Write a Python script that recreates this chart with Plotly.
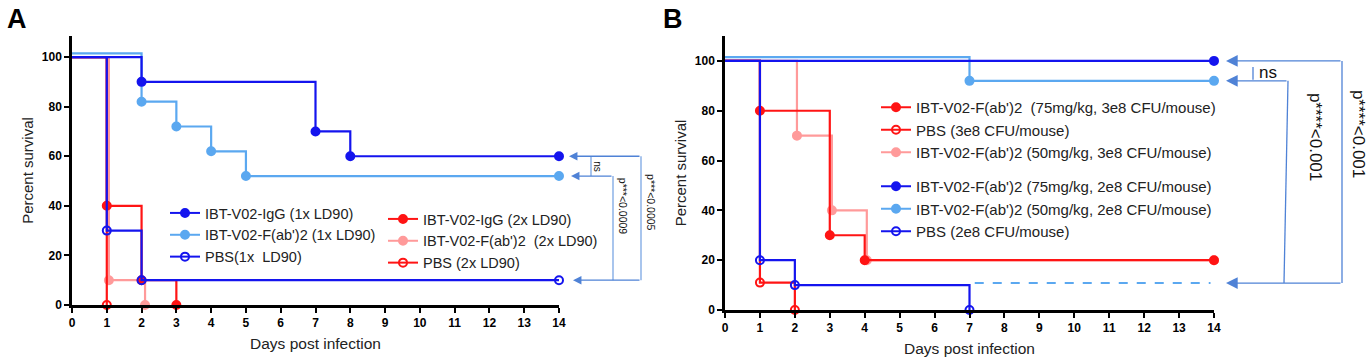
import plotly.graph_objects as go

W, H = 1368, 358
FONT = "Arial, Liberation Sans, sans-serif"

DARK_BLUE = "#1414ee"
LIGHT_BLUE = "#5ba8f0"
RED = "#ff1414"
PINK = "#ff9a9a"
ANN = "#4f82d6"
ANN_LINE = "#7aa6e4"

# ---------------- Panel A data ----------------
a_igg1_days = [0, 2, 7, 8, 14]
a_igg1_surv = [100, 90, 70, 60, 60]
a_fab1_days = [0, 2, 3, 4, 5, 14]
a_fab1_surv = [101.5, 82, 72, 62, 52, 52]
a_pbs1_days = [0, 1, 2, 14]
a_pbs1_surv = [100, 30, 10, 10]
a_igg2_days = [0, 1, 2, 3]
a_igg2_surv = [100, 40, 10, 0]
a_fab2_days = [0, 1.06, 2.1]
a_fab2_surv = [100, 10, 0]
a_pbs2_days = [0, 1]
a_pbs2_surv = [100, 0]

a_names = ["IBT-V02-IgG (1x LD90)", "IBT-V02-F(ab')2 (1x LD90)", "PBS(1x\u00a0 LD90)",
           "IBT-V02-IgG (2x LD90)", "IBT-V02-F(ab')2\u00a0 (2x LD90)", "PBS (2x LD90)"]

# ---------------- Panel B data ----------------
b_fab75_3e8_days = [0, 1, 3, 4, 14]
b_fab75_3e8_surv = [100, 80, 30, 20, 20]
b_pbs_3e8_days = [0, 1, 2]
b_pbs_3e8_surv = [100, 11, 0]
b_fab50_3e8_days = [0, 2.06, 3.06, 4.06, 14]
b_fab50_3e8_surv = [100, 70, 40, 20, 20]
b_fab75_2e8_days = [0, 14]
b_fab75_2e8_surv = [100, 100]
b_fab50_2e8_days = [0, 7, 14]
b_fab50_2e8_surv = [101.5, 92, 92]
b_pbs_2e8_days = [0, 1, 2, 7]
b_pbs_2e8_surv = [100, 20, 10, 0]

b_names = ["IBT-V02-F(ab')2\u00a0 (75mg/kg, 3e8 CFU/mouse)", "PBS (3e8 CFU/mouse)",
           "IBT-V02-F(ab')2 (50mg/kg, 3e8 CFU/mouse)",
           "IBT-V02-F(ab')2 (75mg/kg, 2e8 CFU/mouse)", "IBT-V02-F(ab')2 (50mg/kg, 2e8 CFU/mouse)",
           "PBS (2e8 CFU/mouse)"]

x_ticks = list(range(0, 15))
y_ticks = [0, 20, 40, 60, 80, 100]

fig = go.Figure()


def add_series(days, surv, color, open_marker, xa, ya, name, legend, rank, width=2.2):
    n = len(days)
    symbol = "circle-open" if open_marker else "circle"
    fig.add_trace(go.Scatter(
        x=days, y=surv, mode="lines+markers", line=dict(color=color, width=width, shape="hv"),
        marker=dict(symbol=symbol, size=8, color=color, opacity=[0] + [1] * (n - 1),
                    line=dict(color=color, width=2)),
        xaxis=xa, yaxis=ya, showlegend=False, cliponaxis=False, hoverinfo="skip"))
    fig.add_trace(go.Scatter(
        x=[None], y=[None], mode="lines+markers", name=name,
        line=dict(color=color, width=2),
        marker=dict(symbol=symbol, size=8, color=color, line=dict(color=color, width=2)),
        xaxis=xa, yaxis=ya, legend=legend, legendrank=rank, showlegend=True))


# Panel A (draw order: back to front)
add_series(a_fab2_days, a_fab2_surv, PINK, False, "x", "y", a_names[4], "legend2", 2)
add_series(a_fab1_days, a_fab1_surv, LIGHT_BLUE, False, "x", "y", a_names[1], "legend", 2)
add_series(a_pbs2_days, a_pbs2_surv, RED, True, "x", "y", a_names[5], "legend2", 3)
add_series(a_igg2_days, a_igg2_surv, RED, False, "x", "y", a_names[3], "legend2", 1)
add_series(a_pbs1_days, a_pbs1_surv, DARK_BLUE, True, "x", "y", a_names[2], "legend", 3)
add_series(a_igg1_days, a_igg1_surv, DARK_BLUE, False, "x", "y", a_names[0], "legend", 1)

# Panel B
add_series(b_fab50_3e8_days, b_fab50_3e8_surv, PINK, False, "x2", "y2", b_names[2], "legend3", 3)
add_series(b_pbs_3e8_days, b_pbs_3e8_surv, RED, True, "x2", "y2", b_names[1], "legend3", 2)
add_series(b_fab75_3e8_days, b_fab75_3e8_surv, RED, False, "x2", "y2", b_names[0], "legend3", 1)
add_series(b_fab50_2e8_days, b_fab50_2e8_surv, LIGHT_BLUE, False, "x2", "y2", b_names[4], "legend4", 2)
add_series(b_pbs_2e8_days, b_pbs_2e8_surv, DARK_BLUE, True, "x2", "y2", b_names[5], "legend4", 3)
add_series(b_fab75_2e8_days, b_fab75_2e8_surv, DARK_BLUE, False, "x2", "y2", b_names[3], "legend4", 1)


def px(p):
    return p / W


def axis_common(title, standoff, tsize):
    return dict(showline=True, linecolor="black", linewidth=2.5, ticks="outside", ticklen=5,
                tickwidth=2, tickcolor="black", showgrid=False, zeroline=False,
                tickfont=dict(family=FONT, size=12, color="black", weight="bold"),
                title=dict(text=title, font=dict(family=FONT, size=tsize, color="#222"), standoff=standoff))


xa = axis_common("Days post infection", 9, 15.5)
ya = axis_common("Percent survival", 5, 15)

legend_style = dict(bgcolor="rgba(0,0,0,0)", borderwidth=0, xanchor="left", yanchor="top",
                    traceorder="normal", itemwidth=30, tracegroupgap=0)

fig.update_layout(
    width=W, height=H, margin=dict(l=0, r=0, t=0, b=0, autoexpand=False),
    paper_bgcolor="white", plot_bgcolor="white",
    font=dict(family=FONT, color="#222"),
    xaxis=dict(xa, domain=[px(72), px(559)], range=[0, 14], tickvals=x_ticks, anchor="y"),
    yaxis=dict(ya, domain=[1 - 305 / H, 1 - 36 / H], range=[0, 108.5], tickvals=y_ticks, anchor="x"),
    xaxis2=dict(xa, domain=[px(725), px(1214)], range=[0, 14], tickvals=x_ticks, anchor="y2"),
    yaxis2=dict(ya, domain=[1 - 310 / H, 1 - 36 / H], range=[0, 110], tickvals=y_ticks, anchor="x2"),
    legend=dict(legend_style, x=px(165), y=1 - 197 / H, font=dict(family=FONT, size=14.5, color="#222")),
    legend2=dict(legend_style, x=px(383), y=1 - 203 / H, font=dict(family=FONT, size=14.5, color="#222")),
    legend3=dict(legend_style, x=px(876), y=1 - 91 / H, font=dict(family=FONT, size=15, color="#222")),
    legend4=dict(legend_style, x=px(876), y=1 - 170 / H, font=dict(family=FONT, size=15, color="#222")),
    showlegend=True,
)

shapes = []
annotations = []


def vline(xp, y0, y1, yref, color=ANN_LINE, width=1.3, xp1=None):
    shapes.append(dict(type="line", xref="paper", yref=yref, x0=px(xp), x1=px(xp1 if xp1 else xp),
                       y0=y0, y1=y1, line=dict(color=color, width=width), layer="above"))


def arrow(head, tail, y, yref, size, color=ANN):
    annotations.append(dict(x=px(head), y=y, xref="paper", yref=yref, text="", showarrow=True,
                            ax=tail - head, ay=0, arrowhead=2, arrowsize=size, arrowwidth=1.3,
                            arrowcolor=color))


def label(text, xp, y, yref, size, angle=90, anchor="center"):
    annotations.append(dict(x=px(xp), y=y, xref="paper", yref=yref, text=text, showarrow=False,
                            textangle=angle, xanchor=anchor, yanchor="middle",
                            font=dict(family=FONT, size=size, color="#111")))


# Panel A comparison brackets
arrow(569, 641, 60, "y", 1.3)
arrow(571, 613, 52, "y", 1.3)
arrow(573, 641, 10, "y", 1.3)
vline(641, 60, 10, "y")
vline(613, 52, 10, "y")
vline(591, 60, 52, "y")
label("ns", 598, 56, "y", 10)
label("p***<0.0009", 623, 40, "y", 10.5)
label("p***<0.0005", 651, 41.5, "y", 10.5)

# Panel B comparison brackets
shapes.append(dict(type="line", xref="x2", yref="y2", x0=7.15, x1=13.9, y0=10.8, y1=10.8,
                   line=dict(color=LIGHT_BLUE, width=2, dash="dash"), layer="above"))
arrow(1226, 1342, 100, "y2", 1.8)
arrow(1226, 1288, 92, "y2", 1.8)
arrow(1226, 1342, 10.8, "y2", 1.8)
vline(1342, 100, 10.8, "y2", color=ANN)
vline(1288, 92, 10.8, "y2", color=ANN, xp1=1284)
vline(1253, 97.6, 92.4, "y2", color=ANN)
label("ns", 1257, 95.5, "y2", 17, angle=0, anchor="left")
label("p****<0.001", 1315, 69.5, "y2", 17)
label("p****<0.001", 1358, 70.7, "y2", 17)

# Panel letters
annotations.append(dict(x=px(5), y=1 - 2 / H, xref="paper", yref="paper", text="<b>A</b>",
                        showarrow=False, xanchor="left", yanchor="top",
                        font=dict(family=FONT, size=27, color="black")))
annotations.append(dict(x=px(661), y=1 - 2 / H, xref="paper", yref="paper", text="<b>B</b>",
                        showarrow=False, xanchor="left", yanchor="top",
                        font=dict(family=FONT, size=27, color="black")))

fig.update_layout(shapes=shapes, annotations=annotations)
fig.write_html("out.html", config={"displayModeBar": False},
               post_script="document.body.style.margin='0';document.body.style.padding='0';")
